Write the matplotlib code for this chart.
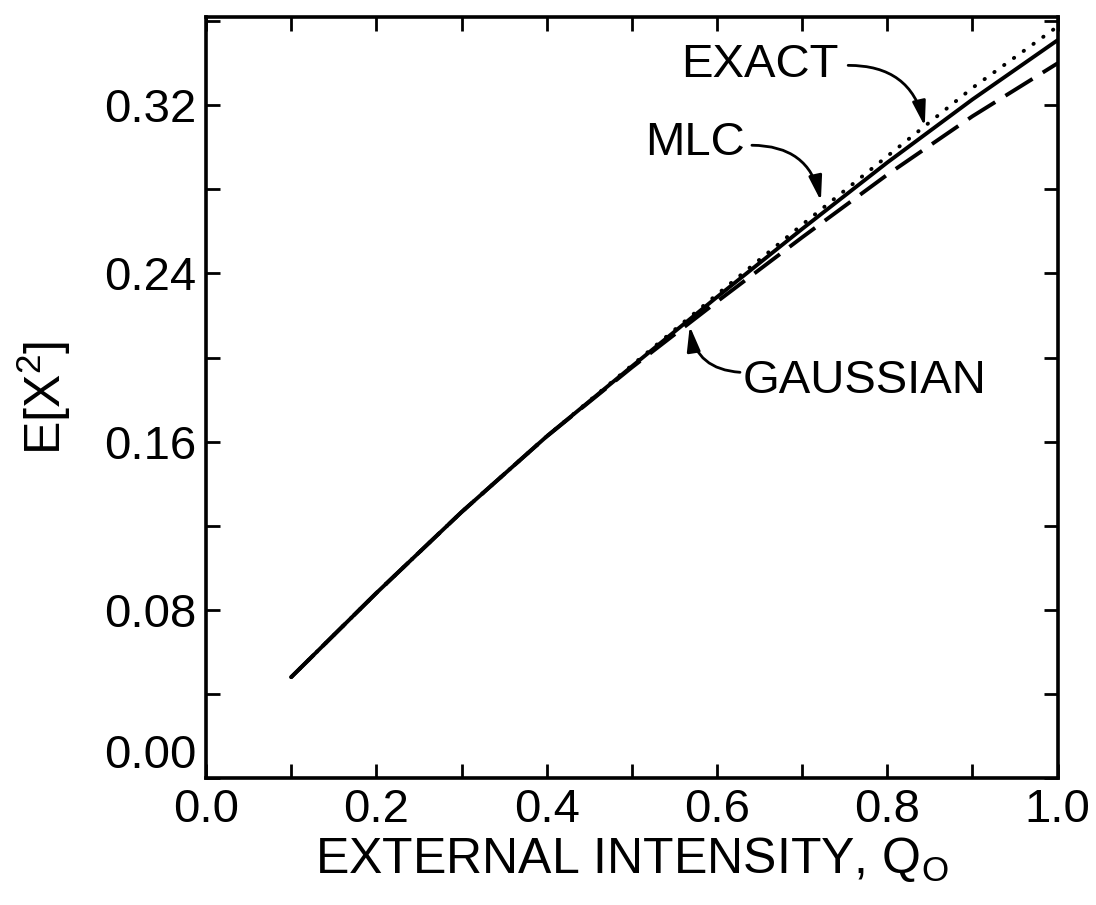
"""
E[X^2] vs external intensity: MLC, exact and gaussian approximations
"""

import numpy as np
from matplotlib import pyplot as plt
from matplotlib.ticker import MultipleLocator, FuncFormatter

plt.rcParams['font.family'] = ['Liberation Sans', 'DejaVu Sans']
plt.rcParams['mathtext.fontset'] = 'custom'
plt.rcParams['mathtext.rm'] = 'Liberation Sans'

# values
qo = [0.1, 0.2, 0.3, 0.4, 0.5, 0.6, 0.7, 0.8, 0.9, 1.0]
mlc = [0.048, 0.088, 0.1265, 0.1625, 0.1958, 0.2288, 0.2612, 0.2928, 0.3228, 0.351]
exact = [0.048, 0.088, 0.1265, 0.1625, 0.1963, 0.2300, 0.2632, 0.2958, 0.3283, 0.3575]
gaussian = [0.048, 0.088, 0.1265, 0.1625, 0.1953, 0.2266, 0.2572, 0.2870, 0.3148, 0.340]

xTicks = np.arange(0.0, 1.01, 0.2)
yTicks = np.arange(0.0, 0.33, 0.08)

fig = plt.figure(figsize=(10.96, 9.05), dpi=100)
ax = fig.add_axes([0.188, 0.1403, 0.777, 0.8409])

ax.plot(qo, mlc, color="black", lw=2.8, solid_capstyle="round")
ax.plot(qo, exact, color="black", lw=2.8, linestyle=(0, (0.1, 3.0)),
        dash_capstyle="round")
ax.plot(qo, gaussian, color="black", lw=2.8, linestyle=(0, (8.2, 3.1)))

ax.set_xlim(0.0, 1.0)
ax.set_ylim(0.0, 0.362)
ax.set_xticks(xTicks)
ax.set_yticks(yTicks)
ax.xaxis.set_minor_locator(MultipleLocator(0.1))
ax.yaxis.set_minor_locator(MultipleLocator(0.04))
ax.xaxis.set_major_formatter(FuncFormatter(lambda v, p: "%.1f" % v))
ax.yaxis.set_major_formatter(FuncFormatter(lambda v, p: "%.2f" % v))

ax.tick_params(which="both", direction="in", top=True, right=True,
               length=10, width=2.0, labelsize=34, pad=7)
for sp in ax.spines.values():
    sp.set_linewidth(2.6)

# 0.00 sits just above the x axis so it clears the 0.0 label
ax.yaxis.get_major_ticks()[0].label1.set_verticalalignment("bottom")

ax.set_xlabel(r"EXTERNAL INTENSITY, Q$\mathregular{_O}$", fontsize=36, labelpad=2)
ax.set_ylabel(r"E[X$\mathregular{^2}$]", fontsize=36, labelpad=22)

arrowProps = dict(arrowstyle="-|>,head_length=0.75,head_width=0.2",
                  mutation_scale=20, color="black", lw=2.0,
                  shrinkA=0, shrinkB=0)

ax.text(0.650, 0.339, "EXACT", fontsize=34, ha="center", va="center")
ax.annotate("", xy=(0.844, 0.310), xytext=(0.754, 0.339),
            arrowprops=dict(connectionstyle="arc3,rad=-0.4", **arrowProps))

ax.text(0.574, 0.302, "MLC", fontsize=34, ha="center", va="center")
ax.annotate("", xy=(0.722, 0.2745), xytext=(0.641, 0.301),
            arrowprops=dict(connectionstyle="arc3,rad=-0.4", **arrowProps))

ax.text(0.773, 0.1888, "GAUSSIAN", fontsize=34, ha="center", va="center")
ax.annotate("", xy=(0.568, 0.2150), xytext=(0.627, 0.193),
            arrowprops=dict(connectionstyle="arc3,rad=-0.4", **arrowProps))

fig.savefig("out.png", dpi=100)
